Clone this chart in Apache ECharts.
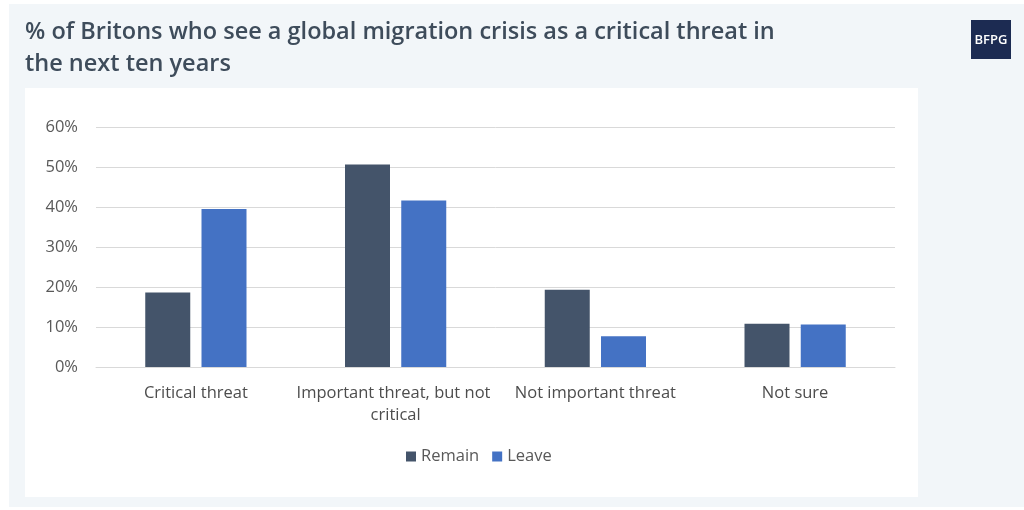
<!DOCTYPE html>
<html>
<head>
<meta charset="utf-8">
<script src="https://cdn.jsdelivr.net/npm/echarts@6/dist/echarts.min.js"></script>
<style>
  html, body { margin: 0; padding: 0; background: #fff; }
  #chart { width: 1024px; height: 510px; }
</style>
</head>
<body>
<div id="chart"></div>
<script>
// data
var categories = ['Critical threat', 'Important threat, but not critical', 'Not important threat', 'Not sure'];
var remain = [0.186, 0.506, 0.193, 0.108];
var leave = [0.395, 0.416, 0.077, 0.106];
var yTicks = [0, 0.1, 0.2, 0.3, 0.4, 0.5, 0.6];

var font = '"Open Sans", sans-serif';
var chart = echarts.init(document.getElementById('chart'));

chart.setOption({
  animation: false,
  textStyle: { fontFamily: font },
  graphic: [
    { type: 'rect', z: -10, silent: true, shape: { x: 9, y: 4, width: 1015, height: 503 }, style: { fill: '#f2f6f9' } },
    { type: 'rect', z: -9, silent: true, shape: { x: 25, y: 88, width: 893, height: 409 }, style: { fill: '#ffffff' } },
    { type: 'rect', z: 5, shape: { x: 971, y: 20, width: 40, height: 39 }, style: { fill: '#1c2b52' } },
    { type: 'text', z: 6, x: 991, y: 40, style: { text: 'BFPG', fill: '#fff', font: '600 13px ' + font, align: 'center', verticalAlign: 'middle' } }
  ],
  title: {
    text: '% of Britons who see a global migration crisis as a critical threat in\nthe next ten years',
    left: 20,
    top: 11,
    textStyle: { fontFamily: font, fontSize: 23.5, fontWeight: 600, color: '#3e4c5b', lineHeight: 32 }
  },
  legend: {
    data: ['Remain', 'Leave'],
    left: 401,
    top: 443,
    itemWidth: 10,
    itemHeight: 10,
    itemGap: 13,
    icon: 'rect',
    textStyle: { fontFamily: font, fontSize: 16.5, color: '#595959' }
  },
  grid: { left: 96, right: 129, top: 127, bottom: 143, containLabel: false },
  xAxis: {
    type: 'category',
    data: categories,
    axisTick: { show: false },
    axisLine: { lineStyle: { color: '#d9d9d9', width: 1 } },
    axisLabel: {
      interval: 0,
      margin: 15,
      width: 200,
      overflow: 'break',
      fontFamily: font,
      fontSize: 16.5,
      color: '#4d4d4d',
      lineHeight: 22
    }
  },
  yAxis: {
    type: 'value',
    min: 0,
    max: 0.6,
    interval: 0.1,
    axisLine: { show: false },
    axisTick: { show: false },
    splitLine: { lineStyle: { color: '#d9d9d9', width: 1 } },
    axisLabel: {
      margin: 18,
      fontFamily: font,
      fontSize: 16.5,
      color: '#595959',
      formatter: function (v) { return Math.round(v * 100) + '%'; }
    }
  },
  series: [
    { name: 'Remain', type: 'bar', data: remain, barWidth: 45, barGap: '25%', itemStyle: { color: '#44546a' } },
    { name: 'Leave', type: 'bar', data: leave, barWidth: 45, itemStyle: { color: '#4472c4' } }
  ]
});
</script>
</body>
</html>
